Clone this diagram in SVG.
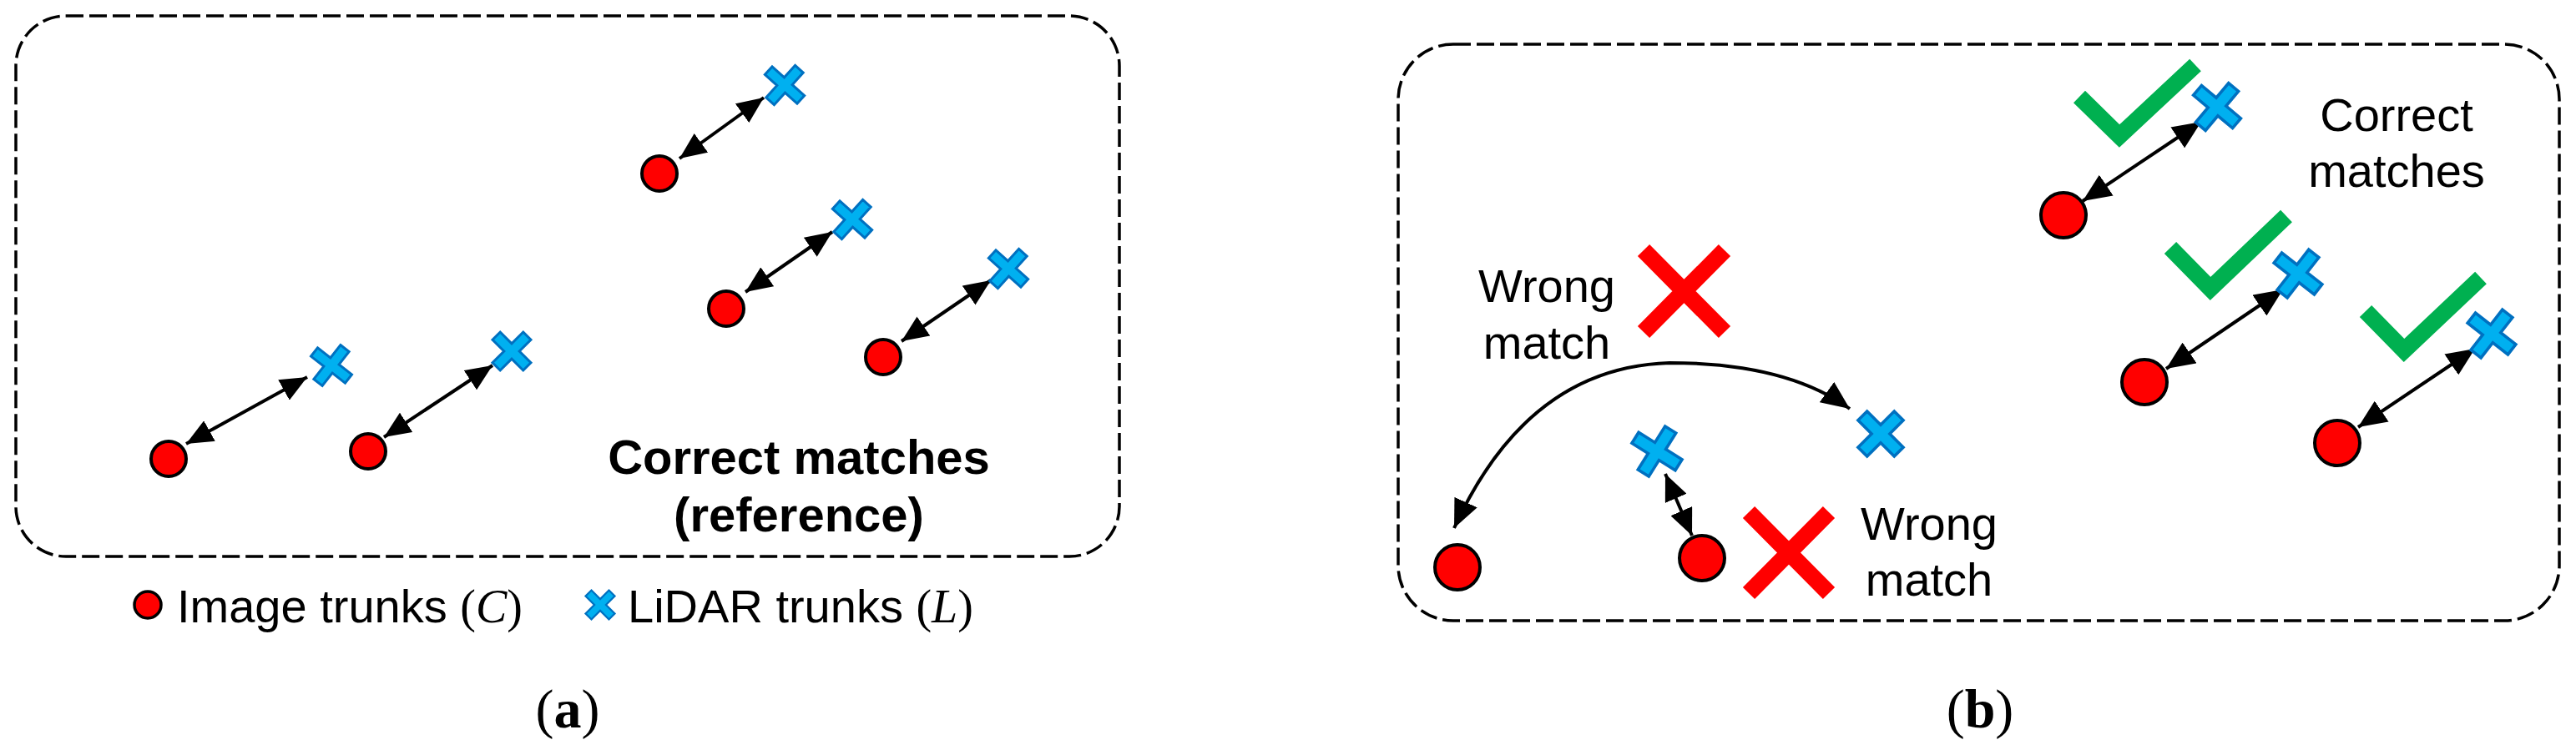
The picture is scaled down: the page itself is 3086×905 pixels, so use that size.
<svg xmlns="http://www.w3.org/2000/svg" xmlns:xlink="http://www.w3.org/1999/xlink" width="3086" height="905" viewBox="0 0 3086 905">
<style>
.box{fill:none;stroke:#000;stroke-width:3.5;stroke-dasharray:21 7}
.pt{fill:#FF0000;stroke:#000;stroke-width:4}
.lx{fill:#00B0F0;stroke:#0070C0;stroke-width:3;stroke-linejoin:miter}
.con{fill:none;stroke:#000;stroke-width:4}
.ok{fill:none;stroke:#00B050;stroke-width:20;stroke-linejoin:miter;stroke-linecap:butt}
.no{fill:none;stroke:#FF0000;stroke-width:20;stroke-linecap:butt}
.t{font-family:"Liberation Sans",Arial,sans-serif;font-size:56px;fill:#000}
.tb{font-family:"Liberation Sans",Arial,sans-serif;font-size:58px;font-weight:bold;fill:#000}
.lg{font-family:"Liberation Sans",Arial,sans-serif;font-size:56px;fill:#000}
.m{font-family:"Liberation Serif","Times New Roman",serif}
.cap{font-family:"Liberation Serif","Times New Roman",serif;font-size:66px;fill:#000}
</style>
<defs>
<marker id="ah" markerUnits="userSpaceOnUse" markerWidth="32" markerHeight="28" viewBox="0 0 32 28" refX="32" refY="14" orient="auto-start-reverse"><path d="M0,0 L32,14 L0,28 Z" fill="#000"/></marker>
<marker id="ahb" markerUnits="userSpaceOnUse" markerWidth="34" markerHeight="30" viewBox="0 0 34 30" refX="34" refY="15" orient="auto-start-reverse"><path d="M0,0 L34,15 L0,30 Z" fill="#000"/></marker>
<path id="xs" d="M-6.5,-26 H6.5 V-6.5 H26 V6.5 H6.5 V26 H-6.5 V6.5 H-26 V-6.5 H-6.5 Z"/>
</defs>

<g id="panel-a-frame"><rect class="box" x="19" y="19" width="1322" height="648" rx="60" ry="60"/></g>
<g id="panel-b-frame"><rect class="box" x="1675" y="53" width="1391" height="691" rx="66" ry="66"/></g>

<g id="connectors">
<line class="con" x1="223" y1="532" x2="368" y2="452" marker-start="url(#ah)" marker-end="url(#ah)"/>
<line class="con" x1="460" y1="524" x2="590" y2="438" marker-start="url(#ah)" marker-end="url(#ah)"/>
<line class="con" x1="814" y1="190" x2="915" y2="117" marker-start="url(#ah)" marker-end="url(#ah)"/>
<line class="con" x1="893" y1="350" x2="997" y2="278" marker-start="url(#ah)" marker-end="url(#ah)"/>
<line class="con" x1="1080" y1="409" x2="1187" y2="336" marker-start="url(#ah)" marker-end="url(#ah)"/>
<path class="con" d="M1742,633 Q1830,440 2000,435 Q2140,435 2216,490" marker-start="url(#ahb)" marker-end="url(#ahb)"/>
<line class="con" x1="1995" y1="568" x2="2027" y2="642" marker-start="url(#ah)" marker-end="url(#ah)"/>
<line class="con" x1="2495" y1="241" x2="2637" y2="146" marker-start="url(#ahb)" marker-end="url(#ahb)"/>
<line class="con" x1="2595" y1="442" x2="2735" y2="347" marker-start="url(#ahb)" marker-end="url(#ahb)"/>
<line class="con" x1="2825" y1="512" x2="2965" y2="418" marker-start="url(#ahb)" marker-end="url(#ahb)"/>
</g>

<g id="a-c1"><circle class="pt" cx="202" cy="550" r="21"/></g>
<g id="a-c2"><circle class="pt" cx="441" cy="541" r="21"/></g>
<g id="a-c3"><circle class="pt" cx="790" cy="208" r="21"/></g>
<g id="a-c4"><circle class="pt" cx="870" cy="370" r="21"/></g>
<g id="a-c5"><circle class="pt" cx="1058" cy="428" r="21"/></g>
<g id="a-l1"><use xlink:href="#xs" class="lx" transform="translate(397,438) rotate(38)"/></g>
<g id="a-l2"><use xlink:href="#xs" class="lx" transform="translate(613,421) rotate(45)"/></g>
<g id="a-l3"><use xlink:href="#xs" class="lx" transform="translate(940,102) rotate(42)"/></g>
<g id="a-l4"><use xlink:href="#xs" class="lx" transform="translate(1021,263) rotate(42)"/></g>
<g id="a-l5"><use xlink:href="#xs" class="lx" transform="translate(1208,322) rotate(42)"/></g>

<g id="a-label"><text class="tb" text-anchor="middle"><tspan x="957" y="568">Correct matches</tspan><tspan x="957" y="637">(reference)</tspan></text></g>

<g id="legend">
<circle class="pt" cx="177" cy="725" r="16" style="stroke-width:3.5"/>
<text class="lg" x="212" y="746">Image trunks <tspan class="m">(</tspan><tspan class="m" font-style="italic">C</tspan><tspan class="m">)</tspan></text>
<use xlink:href="#xs" class="lx" transform="translate(719,725) rotate(45) scale(0.76)"/>
<text class="lg" x="752" y="746">LiDAR trunks <tspan class="m">(</tspan><tspan class="m" font-style="italic">L</tspan><tspan class="m">)</tspan></text>
</g>

<g id="caption-a"><text class="cap" x="680" y="872" text-anchor="middle">(<tspan font-weight="bold">a</tspan>)</text></g>

<g id="b-c1"><circle class="pt" cx="1746" cy="680" r="27"/></g>
<g id="b-c2"><circle class="pt" cx="2039" cy="669" r="27"/></g>
<g id="b-c3"><circle class="pt" cx="2472" cy="258" r="27"/></g>
<g id="b-c4"><circle class="pt" cx="2569" cy="458" r="27"/></g>
<g id="b-c5"><circle class="pt" cx="2800" cy="531" r="27"/></g>
<g id="b-l1"><use xlink:href="#xs" class="lx" transform="translate(2253,520) rotate(45) scale(1.18)"/></g>
<g id="b-l2"><use xlink:href="#xs" class="lx" transform="translate(1985,541) rotate(32) scale(1.18)"/></g>
<g id="b-l3"><use xlink:href="#xs" class="lx" transform="translate(2656,128) rotate(40) scale(1.18)"/></g>
<g id="b-l4"><use xlink:href="#xs" class="lx" transform="translate(2753,328) rotate(38) scale(1.18)"/></g>
<g id="b-l5"><use xlink:href="#xs" class="lx" transform="translate(2985,400) rotate(38) scale(1.18)"/></g>

<g id="b-check1"><polyline class="ok" points="2491,116 2539,163 2630,78"/></g>
<g id="b-check2"><polyline class="ok" points="2600,297 2648,346 2739,259"/></g>
<g id="b-check3"><polyline class="ok" points="2834,373 2880,420 2972,333"/></g>
<g id="b-wrong1"><path class="no" d="M1969,300 L2066,398 M2066,300 L1969,398"/></g>
<g id="b-wrong2"><path class="no" d="M2095,614 L2191,711 M2191,614 L2095,711"/></g>

<g id="b-label-wrong1"><text class="t" text-anchor="middle"><tspan x="1853" y="362">Wrong</tspan><tspan x="1853" y="430">match</tspan></text></g>
<g id="b-label-wrong2"><text class="t" text-anchor="middle"><tspan x="2311" y="647">Wrong</tspan><tspan x="2311" y="714">match</tspan></text></g>
<g id="b-label-correct"><text class="t" text-anchor="middle"><tspan x="2871" y="157">Correct</tspan><tspan x="2871" y="224">matches</tspan></text></g>

<g id="caption-b"><text class="cap" x="2372" y="872" text-anchor="middle">(<tspan font-weight="bold">b</tspan>)</text></g>
</svg>
